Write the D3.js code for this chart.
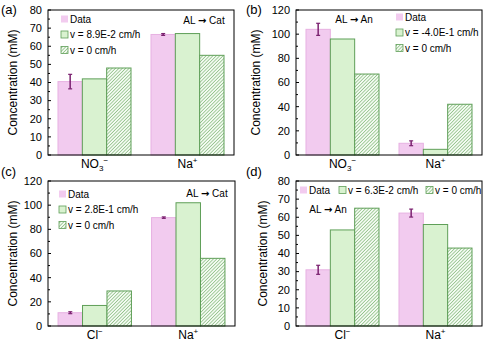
<!DOCTYPE html>
<html>
<head>
<meta charset="utf-8">
<script src="https://cdn.jsdelivr.net/npm/d3@7"></script>
<style>
  body { margin: 0; background: #fff; }
  svg { display: block; font-family: "Liberation Sans", Arial, sans-serif; }
</style>
</head>
<body>
<div id="chart"></div>
<script>
// values
const panelNames = ["(a)", "(b)", "(c)", "(d)"];
const categoriesA = ["NO3-", "Na+"];
const categoriesB = ["NO3-", "Na+"];
const categoriesC = ["Cl-", "Na+"];
const categoriesD = ["Cl-", "Na+"];

const dataA = [40.5, 66.5];
const errA = [4, 0.5];
const fitA = [42, 67];
const zeroA = [48, 55];

const dataB = [104, 9.7];
const errB = [5, 2];
const fitB = [96, 4.7];
const zeroB = [67, 42];

const dataC = [11, 89.7];
const errC = [0.8, 0.6];
const fitC = [17, 102];
const zeroC = [29, 56];

const dataD = [31, 62.3];
const errD = [2.5, 2.2];
const fitD = [53, 56];
const zeroD = [65, 43];

const legendA = ["Data", "v = 8.9E-2 cm/h", "v = 0 cm/h"];
const legendB = ["Data", "v = -4.0E-1 cm/h", "v = 0 cm/h"];
const legendC = ["Data", "v = 2.8E-1 cm/h", "v = 0 cm/h"];
const legendD = ["Data", "v = 6.3E-2 cm/h", "v = 0 cm/h"];

const notes = [["AL", "Cat"], ["AL", "An"], ["AL", "Cat"], ["AL", "An"]];
const yMax = [80, 120, 120, 80];
const yStep = [10, 20, 20, 10];

const pink = "#f2cbef", pinkEdge = "#e7b1e2";
const green = "#d9f2d0", greenEdge = "#5f9f58";
const errColor = "#7b2170";

const W = 486, H = 341;
const svg = d3.select("#chart").append("svg").attr("width", W).attr("height", H);

// hatch pattern for the v = 0 bars
const pat = svg.append("defs").append("pattern")
    .attr("id", "hatch")
    .attr("patternUnits", "userSpaceOnUse")
    .attr("width", 2.4).attr("height", 2.4)
    .attr("patternTransform", "rotate(45)");
pat.append("rect").attr("width", 2.4).attr("height", 2.4).attr("fill", "#f4fbf2");
pat.append("line").attr("x1", 0).attr("y1", 0).attr("x2", 0).attr("y2", 2.4)
    .attr("stroke", "#68a85e").attr("stroke-width", 1.1);

const panels = [
    {cats: categoriesA, data: dataA, err: errA, fit: fitA, zero: zeroA, legend: legendA,
        box: {l: 48, r: 234, t: 10, b: 155}, titleX: 13, labelX: 1, labelY: 14,
        leg: {x: 61, y: 19, horiz: false}, note: {x: 204, y: 24}},
    {cats: categoriesB, data: dataB, err: errB, fit: fitB, zero: zeroB, legend: legendB,
        box: {l: 296, r: 482, t: 10, b: 155}, titleX: 256, labelX: 246, labelY: 14,
        leg: {x: 396, y: 17, horiz: false}, note: {x: 354, y: 23}},
    {cats: categoriesC, data: dataC, err: errC, fit: fitC, zero: zeroC, legend: legendC,
        box: {l: 48, r: 235, t: 181, b: 326}, titleX: 13, labelX: 1, labelY: 176,
        leg: {x: 59, y: 194, horiz: false}, note: {x: 207, y: 197}},
    {cats: categoriesD, data: dataD, err: errD, fit: fitD, zero: zeroD, legend: legendD,
        box: {l: 296, r: 482, t: 181, b: 326}, titleX: 263, labelX: 246, labelY: 176,
        leg: {x: 300, y: 190, horiz: true}, note: {x: 328, y: 213}}
];

// draw chemical formula with sub/superscripts
function formula(sel, str) {
    const m = str.match(/^([A-Za-z]+)(\d*)([+-])$/);
    sel.append("tspan").text(m[1]);
    if (m[2]) sel.append("tspan").attr("font-size", 8).attr("dy", 3).text(m[2]);
    sel.append("tspan").attr("font-size", 8).attr("dy", m[2] ? -8 : -5)
        .text(m[3] === "-" ? "\u2212" : "+");
}

panels.forEach(function (p, i) {
    const g = svg.append("g");
    const bx = p.box;

    const x0 = d3.scaleBand().domain(p.cats).range([bx.l, bx.r])
        .paddingInner(0.215).paddingOuter(0.1075);
    const keys = ["data", "fit", "zero"];
    const x1 = d3.scaleBand().domain(keys).range([0, x0.bandwidth()]);
    const y = d3.scaleLinear().domain([0, yMax[i]]).range([bx.b, bx.t]);

    const rows = p.cats.map((c, j) => ({cat: c, data: p.data[j], err: p.err[j], fit: p.fit[j], zero: p.zero[j]}));

    // bars
    rows.forEach(function (r) {
        g.append("rect")
            .attr("x", x0(r.cat) + x1("data")).attr("width", x1.bandwidth())
            .attr("y", y(r.data)).attr("height", y(0) - y(r.data))
            .attr("fill", pink).attr("stroke", pinkEdge).attr("stroke-width", 1);
        g.append("rect")
            .attr("x", x0(r.cat) + x1("fit")).attr("width", x1.bandwidth())
            .attr("y", y(r.fit)).attr("height", y(0) - y(r.fit))
            .attr("fill", green).attr("stroke", greenEdge).attr("stroke-width", 1);
        g.append("rect")
            .attr("x", x0(r.cat) + x1("zero")).attr("width", x1.bandwidth())
            .attr("y", y(r.zero)).attr("height", y(0) - y(r.zero))
            .attr("fill", "url(#hatch)").attr("stroke", greenEdge).attr("stroke-width", 1);

        // error bar
        const cx = x0(r.cat) + x1("data") + x1.bandwidth() / 2;
        g.append("line").attr("x1", cx).attr("x2", cx)
            .attr("y1", y(r.data - r.err)).attr("y2", y(r.data + r.err))
            .attr("stroke", errColor).attr("stroke-width", 1.5);
        [r.data - r.err, r.data + r.err].forEach(v => {
            g.append("line").attr("x1", cx - 2).attr("x2", cx + 2)
                .attr("y1", y(v)).attr("y2", y(v))
                .attr("stroke", errColor).attr("stroke-width", 1.2);
        });
    });

    // y axis: labelled ticks plus minor ticks, pointing inward
    const major = d3.range(0, yMax[i] + 0.1, yStep[i]);
    const minor = d3.range(yStep[i] / 2, yMax[i], yStep[i]);
    major.forEach(v => {
        g.append("line").attr("x1", bx.l).attr("x2", bx.l + 3)
            .attr("y1", y(v)).attr("y2", y(v)).attr("stroke", "#000");
        g.append("text").attr("x", bx.l - 6).attr("y", y(v)).attr("dy", "0.35em")
            .attr("text-anchor", "end").attr("font-size", 11).text(v);
    });
    minor.forEach(v => {
        g.append("line").attr("x1", bx.l).attr("x2", bx.l + 2)
            .attr("y1", y(v)).attr("y2", y(v)).attr("stroke", "#000");
    });

    // frame
    g.append("rect").attr("x", bx.l).attr("y", bx.t)
        .attr("width", bx.r - bx.l).attr("height", bx.b - bx.t)
        .attr("fill", "none").attr("stroke", "#000").attr("stroke-width", 1);

    // category labels
    p.cats.forEach(c => {
        const t = g.append("text").attr("x", x0(c) + x0.bandwidth() / 2).attr("y", bx.b + 13)
            .attr("text-anchor", "middle").attr("font-size", 12);
        formula(t, c);
    });

    // y title
    g.append("text")
        .attr("transform", "translate(" + p.titleX + "," + ((bx.t + bx.b) / 2) + ") rotate(-90)")
        .attr("text-anchor", "middle").attr("dy", "0.35em").attr("font-size", 12)
        .text("Concentration (mM)");

    // panel label
    g.append("text").attr("x", p.labelX).attr("y", p.labelY).attr("font-size", 13).text(panelNames[i]);

    // direction note
    const nt = g.append("text").attr("x", p.note.x).attr("y", p.note.y).attr("text-anchor", "middle")
        .attr("font-size", 10);
    nt.append("tspan").text(notes[i][0] + " ");
    nt.append("tspan").attr("font-family", "DejaVu Sans").attr("font-weight", "bold").text("\u2192");
    nt.append("tspan").text(" " + notes[i][1]);

    // legend
    const fills = [pink, green, "url(#hatch)"];
    const edges = ["none", greenEdge, greenEdge];
    const hOffsets = [0, 39, 126];
    p.legend.forEach(function (lab, k) {
        const lx = p.leg.horiz ? p.leg.x + hOffsets[k] : p.leg.x;
        const ly = p.leg.horiz ? p.leg.y : p.leg.y + k * 15.5;
        g.append("rect").attr("x", lx).attr("y", ly - 3.5).attr("width", 7).attr("height", 7)
            .attr("fill", fills[k]).attr("stroke", edges[k]).attr("stroke-width", 0.8);
        g.append("text").attr("x", lx + 9).attr("y", ly).attr("dy", "0.35em")
            .attr("font-size", 10).text(lab);
    });
});
</script>
</body>
</html>
